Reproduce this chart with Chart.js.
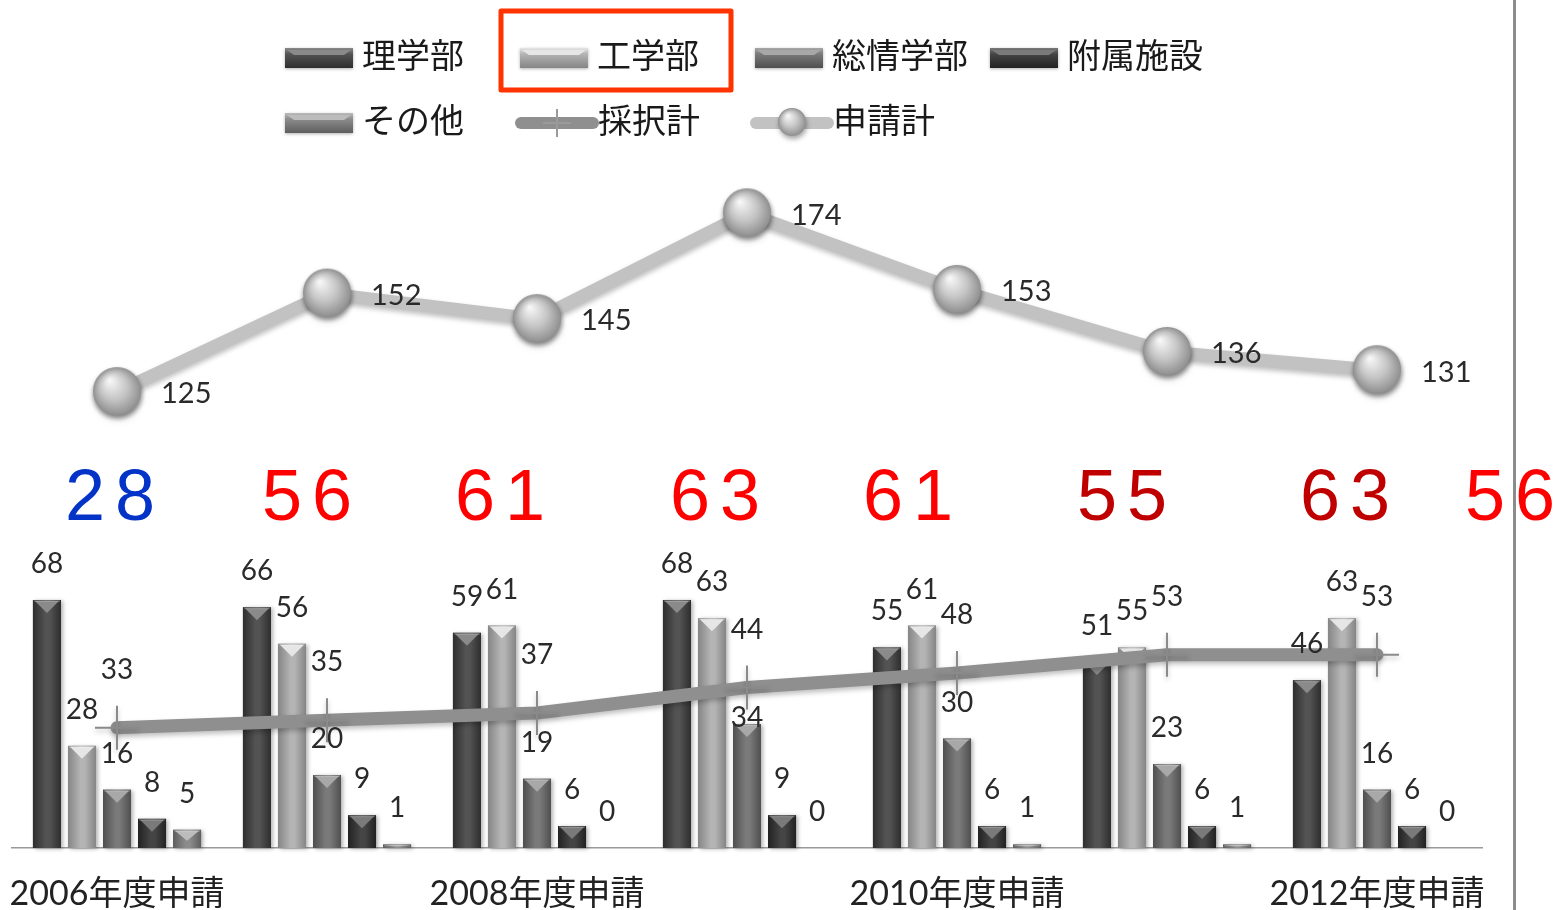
<!DOCTYPE html>
<html><head><meta charset="utf-8">
<script src="https://cdn.jsdelivr.net/npm/chart.js@4.4.1/dist/chart.umd.min.js"></script>
<style>html,body{margin:0;padding:0;background:#fff;overflow:hidden}#wrap{width:1561px;height:910px;position:relative}</style>
</head><body><div id="wrap"><canvas id="c" width="1561" height="910"></canvas></div>
<script>
// ---- data ----
const categories = ['2006年度申請','2007年度申請','2008年度申請','2009年度申請','2010年度申請','2011年度申請','2012年度申請'];
const science     = [68, 66, 59, 68, 55, 51, 46];
const engineering = [28, 56, 61, 63, 61, 55, 63];
const infoSci     = [16, 20, 19, 34, 30, 23, 16];
const facilities  = [8, 9, 6, 9, 6, 6, 6];
const others      = [5, 1, 0, 0, 1, 1, 0];
const adoptedTotal = [33, 35, 37, 44, 48, 53, 53];
const appliedTotal = [125, 152, 145, 174, 153, 136, 131];
const highlightValues = [28, 56, 61, 63, 61, 55, 63, 56];
const seriesNames = ['理学部','工学部','総情学部','附属施設','その他','採択計','申請計'];

// ---- styles ----
const barStyles = [
  {edge:'#2e2e2e', mid:'#535353', bevel:'#8a8a8a'},
  {edge:'#858585', mid:'#b4b4b4', bevel:'#e6e6e6'},
  {edge:'#4f4f4f', mid:'#7a7a7a', bevel:'#a8a8a8'},
  {edge:'#222222', mid:'#454545', bevel:'#7a7a7a'},
  {edge:'#5e5e5e', mid:'#8c8c8c', bevel:'#bcbcbc'}
];
const highlightColors = ['#0433c8','#ff0000','#ff0000','#ff0000','#ff0000','#c00000','#c00000','#ff0000'];
const highlightX = [110, 307, 500, 715, 908, 1122, 1345, 1510];
const labelOffsetOverride = { '2-3': 6 };
const NUM_FONT = "Lato, 'Noto Sans CJK JP', sans-serif";
const JP_FONT = "'Noto Sans CJK JP', sans-serif";

function makeSphere(r){
  const pad = 7;
  const c = document.createElement('canvas');
  c.width = c.height = 2*(r+pad);
  const g = c.getContext('2d');
  const cx = r+pad, cy = r+pad-1;
  g.shadowColor = 'rgba(0,0,0,0.35)'; g.shadowBlur = 5; g.shadowOffsetY = 3; g.shadowOffsetX = 1;
  const rg = g.createRadialGradient(cx - r*0.3, cy - r*0.45, r*0.05, cx, cy, r);
  rg.addColorStop(0, '#f6f6f6');
  rg.addColorStop(0.55, '#c4c4c4');
  rg.addColorStop(1, '#8f8f8f');
  g.fillStyle = rg;
  g.beginPath(); g.arc(cx, cy, r, 0, Math.PI*2); g.fill();
  return c;
}
const bigSphere = makeSphere(24);
const smallSphere = makeSphere(14);

function drawBar3D(ctx, x, top, base, w, s){
  const h = base - top;
  if (h < 0.5) return;
  const l = x - w/2, r = x + w/2;
  ctx.save();
  ctx.shadowColor = 'rgba(0,0,0,0.3)'; ctx.shadowBlur = 4; ctx.shadowOffsetX = 2; ctx.shadowOffsetY = 1;
  const g = ctx.createLinearGradient(l, 0, r, 0);
  g.addColorStop(0, s.edge); g.addColorStop(0.45, s.mid); g.addColorStop(0.6, s.mid); g.addColorStop(1, s.edge);
  ctx.fillStyle = g;
  ctx.fillRect(l, top, w, h);
  ctx.restore();
  const bh = Math.min(13, h*0.6);
  ctx.fillStyle = s.bevel;
  ctx.beginPath();
  ctx.moveTo(l+2, top+1); ctx.lineTo(r-2, top+1); ctx.lineTo(x, top+bh); ctx.closePath();
  ctx.fill();
  ctx.fillStyle = 'rgba(255,255,255,0.18)';
  ctx.fillRect(l+1, top, w-2, 2);
}

function drawBarSwatch(ctx, x, y, w, h, s){
  ctx.save();
  ctx.shadowColor = 'rgba(0,0,0,0.3)'; ctx.shadowBlur = 3; ctx.shadowOffsetY = 1;
  const g = ctx.createLinearGradient(0, y, 0, y+h);
  g.addColorStop(0, s.bevel); g.addColorStop(0.3, s.mid); g.addColorStop(1, s.edge);
  ctx.fillStyle = g; ctx.fillRect(x, y, w, h);
  ctx.restore();
  ctx.fillStyle = s.bevel;
  ctx.beginPath();
  ctx.moveTo(x+2, y+2); ctx.lineTo(x+w-2, y+2); ctx.lineTo(x+w-9, y+7); ctx.lineTo(x+9, y+7); ctx.closePath();
  ctx.fill();
}

const effectsPlugin = {
  id: 'effects',
  beforeDatasetDraw(chart, args){
    const ds = chart.data.datasets[args.index];
    if (ds.type === 'line'){
      chart.ctx.save();
      chart.ctx.shadowColor = 'rgba(0,0,0,0.25)';
      chart.ctx.shadowBlur = 5; chart.ctx.shadowOffsetY = 3;
    }
  },
  afterDatasetDraw(chart, args){
    const ds = chart.data.datasets[args.index];
    const ctx = chart.ctx;
    if (ds.type === 'line'){ ctx.restore(); return; }
    const s = barStyles[args.index];
    args.meta.data.forEach(el => {
      drawBar3D(ctx, el.x, el.y, el.base, el.width, s);
    });
  },
  afterDatasetsDraw(chart){
    const ctx = chart.ctx;
    ctx.save();
    ctx.fillStyle = '#2a2a2a';
    ctx.textBaseline = 'middle';
    chart.data.datasets.forEach((ds, di) => {
      const meta = chart.getDatasetMeta(di);
      meta.data.forEach((el, i) => {
        const v = ds.data[i];
        if (ds.type === 'bar'){
          const off = labelOffsetOverride[di + '-' + i] ?? 36;
          ctx.font = '28px ' + NUM_FONT; ctx.textAlign = 'center';
          ctx.fillText(String(v), el.x, el.y - off);
        } else if (di === 5){
          ctx.font = '28px ' + NUM_FONT; ctx.textAlign = 'center';
          ctx.fillText(String(v), el.x, el.y - 58);
        } else {
          ctx.font = '29px ' + NUM_FONT; ctx.textAlign = 'left';
          ctx.fillText(String(v), el.x + 44, el.y + 2);
        }
      });
    });
    ctx.restore();
  },
  afterDraw(chart){
    const ctx = chart.ctx;
    ctx.save();
    // big highlight numbers
    ctx.font = "72px 'Liberation Sans', Arial, sans-serif";
    ctx.letterSpacing = '10px';
    ctx.textAlign = 'center'; ctx.textBaseline = 'middle';
    highlightValues.forEach((v, i) => {
      ctx.fillStyle = highlightColors[i];
      ctx.fillText(String(v), highlightX[i] + 5, 500);
    });
    ctx.letterSpacing = '0px';
    // right border line
    ctx.fillStyle = '#8c8c8c';
    ctx.fillRect(1513, 0, 3, 910);
    // legend
    const colX = [285, 520, 755, 990];
    const rowY = [56, 121];
    ctx.font = '34px ' + JP_FONT;
    ctx.textAlign = 'left'; ctx.textBaseline = 'middle';
    chart.data.datasets.forEach((ds, i) => {
      const col = i % 4, row = Math.floor(i / 4);
      const x = colX[col], y = rowY[row];
      if (ds.type === 'bar'){
        drawBarSwatch(ctx, x, y - 8, 68, 20, barStyles[i]);
        ctx.fillStyle = '#1a1a1a';
        ctx.fillText(ds.label, x + 77, y - 1);
      } else {
        ctx.save();
        ctx.strokeStyle = ds.borderColor; ctx.lineWidth = 12; ctx.lineCap = 'round';
        ctx.beginPath(); ctx.moveTo(x + 1, y + 2); ctx.lineTo(x + 73, y + 2); ctx.stroke();
        ctx.restore();
        if (ds.pointStyle === 'cross'){
          ctx.strokeStyle = '#9a9a9a'; ctx.lineWidth = 2;
          ctx.beginPath(); ctx.moveTo(x + 37, y - 12); ctx.lineTo(x + 37, y + 16);
          ctx.moveTo(x + 23, y + 2); ctx.lineTo(x + 51, y + 2); ctx.stroke();
        } else {
          ctx.drawImage(smallSphere, x + 37 - smallSphere.width/2, y + 2 - smallSphere.height/2);
        }
        ctx.fillStyle = '#1a1a1a';
        ctx.fillText(ds.label, x + 78, y - 1);
      }
    });
    // red highlight box
    ctx.strokeStyle = '#ff3300'; ctx.lineWidth = 5; ctx.lineJoin = 'round';
    ctx.strokeRect(501, 11, 230, 79);
    ctx.restore();
  }
};

const barData = [science, engineering, infoSci, facilities, others];
const datasets = barData.map((d, i) => ({
  type: 'bar', label: seriesNames[i], data: d, order: 1,
  backgroundColor: barStyles[i].mid, borderWidth: 0,
  categoryPercentage: 0.834, barPercentage: 0.8
}));
datasets.push({
  type: 'line', label: seriesNames[5], data: adoptedTotal, order: -1,
  borderColor: '#8f8f8f', borderWidth: 13, borderCapStyle: 'round', borderJoinStyle: 'round',
  pointStyle: 'cross', pointRadius: 22, pointBorderWidth: 2, pointBorderColor: '#8a8a8a',
  pointBackgroundColor: '#8a8a8a', tension: 0
});
datasets.push({
  type: 'line', label: seriesNames[6], data: appliedTotal, order: -2,
  borderColor: '#c2c2c2', borderWidth: 13, borderCapStyle: 'round', borderJoinStyle: 'round',
  pointStyle: bigSphere, pointRadius: 24, tension: 0
});

new Chart(document.getElementById('c'), {
  data: { labels: categories, datasets },
  options: {
    responsive: false, animation: false, devicePixelRatio: 1,
    layout: { autoPadding: false, padding: { left: 12, right: 79, top: 155, bottom: 0 } },
    plugins: { legend: { display: false }, tooltip: { enabled: false } },
    scales: {
      x: {
        grid: { display: false, drawTicks: false },
        border: { display: true, color: '#9a9a9a', width: 1.5 },
        ticks: {
          autoSkip: false, maxRotation: 0, padding: 26, color: '#222',
          font: { size: 34, family: NUM_FONT },
          callback: (v, i) => (i % 2 === 0 ? categories[i] : '')
        },
        afterFit: (s) => { s.height = 62; s.paddingLeft = 0; s.paddingRight = 0; }
      },
      y: { display: false, min: 0, max: 190 }
    }
  },
  plugins: [effectsPlugin]
});
</script>
</body></html>
